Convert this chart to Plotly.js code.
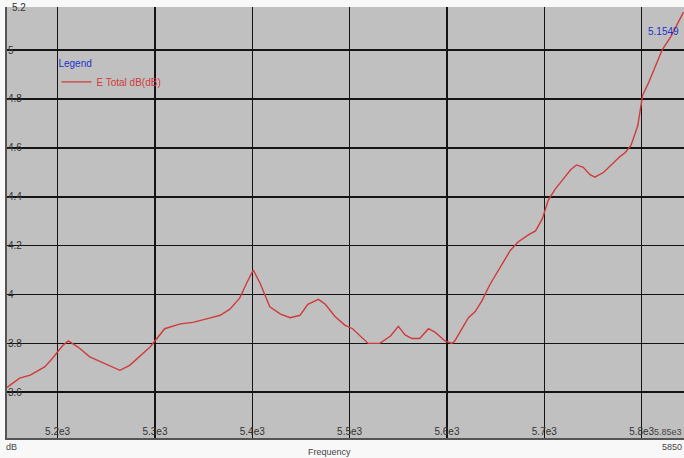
<!DOCTYPE html>
<html>
<head>
<meta charset="utf-8">
<script src="https://cdn.plot.ly/plotly-3.0.1.min.js"></script>
<style>html,body{margin:0;padding:0;overflow:hidden;background:#fff;}</style>
</head>
<body>
<div id="chart" style="width:684px;height:458px;"></div>
<script>
// Frequency (MHz) and E Total dB (dB)
const frequency = [5148,5161,5172,5187,5195,5205,5211,5221,5233,5244,5259,5264,5274,5285,5295,5303,5310,5326,5339,5353,5367,5377,5387,5394,5401,5408,5418,5429,5439,5449,5457,5468,5475,5485,5495,5503,5511,5519,5531,5542,5550,5557,5564,5572,5581,5588,5598,5605,5608,5614,5622,5629,5636,5644,5655,5665,5673,5684,5691,5698,5704,5711,5719,5727,5733,5740,5747,5752,5761,5770,5778,5783,5789,5796,5801,5807,5814,5821,5830,5837,5843];
const eTotal = [3.62,3.658,3.67,3.705,3.74,3.79,3.81,3.785,3.745,3.725,3.698,3.69,3.71,3.75,3.785,3.825,3.86,3.88,3.886,3.90,3.915,3.94,3.985,4.045,4.10,4.046,3.95,3.92,3.905,3.915,3.96,3.98,3.96,3.91,3.875,3.86,3.83,3.80,3.80,3.83,3.87,3.835,3.82,3.82,3.86,3.845,3.81,3.80,3.81,3.85,3.905,3.93,3.975,4.04,4.115,4.18,4.215,4.245,4.26,4.31,4.385,4.43,4.47,4.51,4.53,4.52,4.49,4.48,4.50,4.535,4.565,4.58,4.61,4.69,4.815,4.865,4.93,5.00,5.055,5.11,5.1549];

const xTickVals = [5200,5300,5400,5500,5600,5700,5800];
const xTickText = ['5.2e3','5.3e3','5.4e3','5.5e3','5.6e3','5.7e3','5.8e3'];
const yTickVals = [3.6,3.8,4,4.2,4.4,4.6,4.8,5];
const yTickText = ['3.6','3.8','4','4.2','4.4','4.6','4.8','5'];
const seriesName = 'E Total dB(dB)';
const lastValueLabel = '5.1549';

const labelFont = {family:'Liberation Sans, Arial, sans-serif', size:10, color:'#333'};
const smallFont = {family:'Liberation Sans, Arial, sans-serif', size:9, color:'#444'};

const trace = {
  x: frequency, y: eTotal, type:'scatter', mode:'lines', name: seriesName,
  line:{color:'#d03a3a', width:1.4}
};

const layout = {
  width:684, height:458,
  margin:{l:7, r:0, t:7, b:20},
  paper_bgcolor:'#f8f8f8',
  plot_bgcolor:'#c0c0c0',
  font: labelFont,
  showlegend:true,
  legend:{
    x:0.073, y:0.89, xanchor:'left', yanchor:'top',
    bgcolor:'rgba(0,0,0,0)',
    title:{text:'Legend', font:{family:'Liberation Sans, Arial, sans-serif', size:10, color:'#2233cc'}},
    font:{family:'Liberation Sans, Arial, sans-serif', size:10, color:'#d03a3a'},
    itemwidth:30, tracegroupgap:0
  },
  xaxis:{
    range:[5148, 5843.5], tickvals:xTickVals, ticktext:xTickText,
    ticklabelposition:'inside', ticks:'', showgrid:true,
    gridcolor:'#141414', gridwidth:1.6, zeroline:false,
    showline:true, linecolor:'#555', linewidth:2,
    tickfont:labelFont
  },
  yaxis:{
    range:[3.413, 5.176], tickvals:yTickVals, ticktext:yTickText,
    ticklabelposition:'inside', ticks:'', showgrid:true,
    gridcolor:'#141414', gridwidth:1.6, zeroline:false,
    showline:true, linecolor:'#555', linewidth:2,
    tickfont:labelFont
  },
  annotations:[
    {xref:'paper', yref:'paper', x:0.944, y:0.944, xanchor:'left', yanchor:'middle',
     text:lastValueLabel, showarrow:false, font:{family:'Liberation Sans, Arial, sans-serif', size:10, color:'#2233cc'}},
    {xref:'paper', yref:'paper', x:0.004, y:1.016, xanchor:'left', yanchor:'top',
     text:'5.2', showarrow:false, font:labelFont},
    {xref:'paper', yref:'paper', x:1.0, y:0.014, xanchor:'right', yanchor:'middle',
     text:'5.85e3', showarrow:false, font:smallFont},
    {xref:'paper', yref:'paper', x:-0.004, y:-0.022, xanchor:'left', yanchor:'middle',
     text:'dB', showarrow:false, font:smallFont},
    {xref:'paper', yref:'paper', x:0.477, y:-0.032, xanchor:'center', yanchor:'middle',
     text:'Frequency', showarrow:false, font:smallFont},
    {xref:'paper', yref:'paper', x:1.0, y:-0.02, xanchor:'right', yanchor:'middle',
     text:'5850', showarrow:false, font:smallFont}
  ]
};

Plotly.newPlot('chart', [trace], layout, {displayModeBar:false, staticPlot:true});
</script>
</body>
</html>
